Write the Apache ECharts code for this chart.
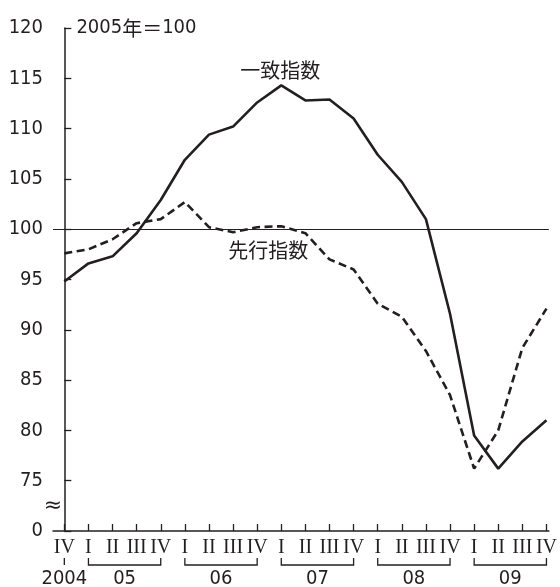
<!DOCTYPE html>
<html>
<head>
<meta charset="utf-8">
<script src="https://cdn.jsdelivr.net/npm/echarts@6/dist/echarts.min.js"></script>
<style>
  html, body { margin: 0; padding: 0; background: #fff; }
  #chart { width: 560px; height: 587px; }
</style>
</head>
<body>
<div id="chart"></div>
<script>
// quarters from 2004 IV to 2009 IV
const quarterLabels = ["IV", "I", "II", "III", "IV", "I", "II", "III", "IV", "I", "II", "III", "IV",
  "I", "II", "III", "IV", "I", "II", "III", "IV"];
// year brackets: [first quarter index, last quarter index, label]
const yearGroups = [[0, 0, "2004"], [1, 4, "05"], [5, 8, "06"], [9, 12, "07"], [13, 16, "08"], [17, 20, "09"]];
const coincident = [94.8, 96.6, 97.3, 99.6, 102.9, 106.9, 109.4, 110.2, 112.6, 114.3, 112.8,
  112.9, 111.0, 107.4, 104.7, 101.0, 91.6, 79.5, 76.2, 78.9, 81.0];
const leading = [97.6, 98.0, 99.0, 100.6, 101.0, 102.7, 100.2, 99.7, 100.2, 100.3, 99.6,
  97.0, 96.0, 92.6, 91.3, 87.9, 83.5, 76.2, 80.0, 88.2, 92.1];
const yMin = 70, yMax = 120, yStep = 5;

const narrow = "DejaVu Sans Condensed, Noto Sans CJK JP, sans-serif";
const cjk = "Noto Sans CJK JP, sans-serif";
const ink = "#231f20";

const chart = echarts.init(document.getElementById("chart"));
chart.setOption({
  animation: false,
  grid: { left: 53, right: 6, top: 28, bottom: 56 },
  xAxis: {
    type: "value",
    min: -0.47,
    max: 20.1,
    splitLine: { show: false },
    axisLine: { lineStyle: { color: ink, width: 1.5 } },
    axisTick: {
      inside: true, length: 7,
      customValues: quarterLabels.map((_, i) => i),
      lineStyle: { color: ink, width: 1.3 }
    },
    axisLabel: {
      customValues: quarterLabels.map((_, i) => i),
      formatter: v => quarterLabels[Math.round(v)],
      fontFamily: "Liberation Serif, serif",
      fontSize: 20, color: ink, margin: 7
    }
  },
  yAxis: {
    type: "value",
    min: yMin, max: yMax, interval: yStep,
    splitLine: { show: false },
    axisLine: { show: true, lineStyle: { color: ink, width: 1.5 } },
    axisTick: { show: true, inside: true, length: 7, lineStyle: { color: ink, width: 1.3 } },
    axisLabel: {
      formatter: v => (v === yMin ? "0" : String(v)),
      fontFamily: narrow, fontSize: 20, color: ink, margin: 10
    }
  },
  series: [
    {
      name: "一致指数",
      type: "line",
      data: coincident.map((v, i) => [i, v]),
      symbol: "none",
      lineStyle: { color: ink, width: 2.6 },
      markLine: {
        silent: true,
        symbol: "none",
        label: { show: false },
        lineStyle: { color: ink, width: 1, type: "solid" },
        data: [{ yAxis: 100 }]
      },
      z: 3
    },
    {
      name: "先行指数",
      type: "line",
      data: leading.map((v, i) => [i, v]),
      symbol: "none",
      lineStyle: { color: ink, width: 2.6, type: [8, 4.5] },
      z: 3
    },
    {
      type: "custom",
      data: yearGroups.map(g => [g[0], g[1]]),
      encode: { x: [0, 1] },
      clip: false,
      silent: true,
      renderItem: (params, api) => {
        const x1 = api.coord([api.value(0), yMin])[0];
        const x2 = api.coord([api.value(1), yMin])[0];
        const y0 = api.coord([0, yMin])[1];
        const yTop = y0 + 27, yBot = y0 + 34;
        const pts = x1 === x2 ? [[x1, yTop], [x1, yBot]] : [[x1, yTop], [x1, yBot], [x2, yBot], [x2, yTop]];
        return {
          type: "group",
          children: [
            { type: "polyline", shape: { points: pts }, style: { stroke: ink, lineWidth: 1.3, fill: null } },
            {
              type: "text",
              style: {
                text: yearGroups[params.dataIndex][2], x: (x1 + x2) / 2, y: y0 + 48,
                align: "center", verticalAlign: "middle",
                font: "20px " + narrow, fill: ink
              }
            }
          ]
        };
      }
    }
  ]
});

// annotations placed via data coordinates
const p1 = chart.convertToPixel({ gridIndex: 0 }, [7.3, 115.8]);
const p2 = chart.convertToPixel({ gridIndex: 0 }, [6.8, 97.9]);
const pUnit = chart.convertToPixel({ gridIndex: 0 }, [0.5, 120]);
const pBreak = chart.convertToPixel({ gridIndex: 0 }, [-0.47, 72.5]);
chart.setOption({
  graphic: [
    {
      type: "text", x: pUnit[0], y: pUnit[1],
      style: {
        text: "{d|2005}{c|年＝}{d|100}", verticalAlign: "middle", fill: ink,
        rich: {
          d: { fontFamily: narrow, fontSize: 20, fill: ink },
          c: { fontFamily: cjk, fontSize: 20, fill: ink }
        }
      }
    },
    { type: "text", x: p1[0], y: p1[1], style: { text: "一致指数", font: "20px " + cjk, fill: ink, verticalAlign: "middle" } },
    { type: "text", x: p2[0], y: p2[1], style: { text: "先行指数", font: "20px " + cjk, fill: ink, verticalAlign: "middle" } },
    { type: "text", x: pBreak[0], y: pBreak[1], style: { text: "≈", font: "22px DejaVu Sans, sans-serif", fill: ink, align: "center", verticalAlign: "middle" } }
  ]
});
</script>
</body>
</html>
